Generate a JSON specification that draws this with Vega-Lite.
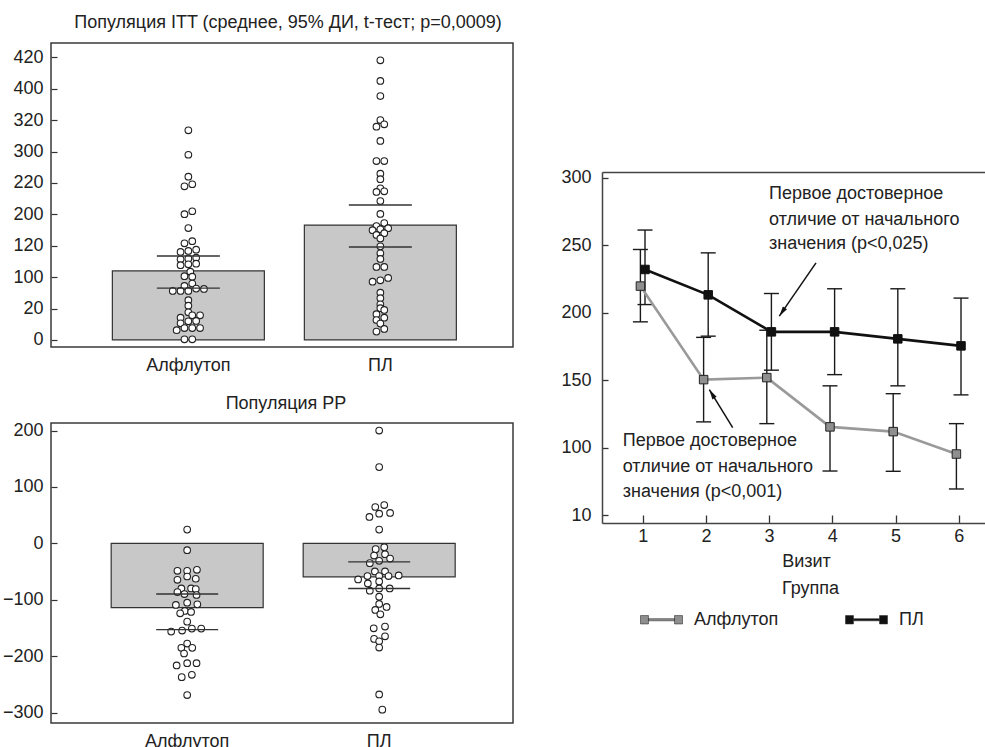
{
  "$schema": "https://vega.github.io/schema/vega-lite/v6.json",
  "padding": {"left": 1, "top": 13, "right": 0, "bottom": 0},
  "background": "white",
  "spacing": 46,
  "config": {
    "font": "Liberation Sans",
    "axis": {"labelFontSize": 18, "titleFontSize": 18, "titleFontWeight": "normal", "labelColor": "#222", "titleColor": "#222", "grid": false, "labelOverlap": false},
    "title": {"fontSize": 18, "fontWeight": "normal", "color": "#222"},
    "text": {"fontSize": 18, "color": "#222"},
    "legend": {"labelFontSize": 18, "titleFontSize": 18, "titleFontWeight": "normal", "labelColor": "#222", "titleColor": "#222"}
  },
  "datasets": {
    "itt_summary": [
      {"group": "Алфлутоп", "mean": 44, "lo": 33, "hi": 53.5},
      {"group": "ПЛ", "mean": 73.2, "lo": 59.2, "hi": 86}
    ],
    "pp_summary": [
      {"group": "Алфлутоп", "mean": -114, "lo": -152.8, "hi": -89.8},
      {"group": "ПЛ", "mean": -59.2, "lo": -79.9, "hi": -32.7}
    ],
    "itt_dots": [
      {"group": "Алфлутоп", "value": 133.6, "slot": 0}, {"group": "Алфлутоп", "value": 118.0, "slot": 0},
      {"group": "Алфлутоп", "value": 104.0, "slot": 0}, {"group": "Алфлутоп", "value": 97.9, "slot": -1},
      {"group": "Алфлутоп", "value": 99.2, "slot": 1}, {"group": "Алфлутоп", "value": 80.1, "slot": -1},
      {"group": "Алфлутоп", "value": 82.0, "slot": 1}, {"group": "Алфлутоп", "value": 71.3, "slot": 0},
      {"group": "Алфлутоп", "value": 61.6, "slot": -1}, {"group": "Алфлутоп", "value": 62.9, "slot": 1},
      {"group": "Алфлутоп", "value": 56.1, "slot": -2}, {"group": "Алфлутоп", "value": 56.7, "slot": 0},
      {"group": "Алфлутоп", "value": 57.5, "slot": 2}, {"group": "Алфлутоп", "value": 51.4, "slot": -2},
      {"group": "Алфлутоп", "value": 51.8, "slot": 0}, {"group": "Алфлутоп", "value": 52.4, "slot": 2},
      {"group": "Алфлутоп", "value": 47.6, "slot": -2}, {"group": "Алфлутоп", "value": 48.2, "slot": 0},
      {"group": "Алфлутоп", "value": 48.6, "slot": 2}, {"group": "Алфлутоп", "value": 43.5, "slot": 0.5},
      {"group": "Алфлутоп", "value": 40.6, "slot": -1}, {"group": "Алфлутоп", "value": 40.3, "slot": 1},
      {"group": "Алфлутоп", "value": 35.9, "slot": 1}, {"group": "Алфлутоп", "value": 34.4, "slot": -1},
      {"group": "Алфлутоп", "value": 31.2, "slot": -4}, {"group": "Алфлутоп", "value": 31.2, "slot": -2},
      {"group": "Алфлутоп", "value": 31.2, "slot": 0}, {"group": "Алфлутоп", "value": 32.7, "slot": 2},
      {"group": "Алфлутоп", "value": 32.5, "slot": 4}, {"group": "Алфлутоп", "value": 25.3, "slot": 0},
      {"group": "Алфлутоп", "value": 21.8, "slot": 0}, {"group": "Алфлутоп", "value": 17.6, "slot": 0},
      {"group": "Алфлутоп", "value": 14.2, "slot": -2}, {"group": "Алфлутоп", "value": 15.7, "slot": 1},
      {"group": "Алфлутоп", "value": 15.7, "slot": 3}, {"group": "Алфлутоп", "value": 10.6, "slot": -2},
      {"group": "Алфлутоп", "value": 11.9, "slot": 0}, {"group": "Алфлутоп", "value": 12.1, "slot": 2},
      {"group": "Алфлутоп", "value": 6.2, "slot": -3}, {"group": "Алфлутоп", "value": 7.6, "slot": -1},
      {"group": "Алфлутоп", "value": 7.6, "slot": 1}, {"group": "Алфлутоп", "value": 7.6, "slot": 3},
      {"group": "Алфлутоп", "value": 0.4, "slot": -1}, {"group": "Алфлутоп", "value": 0.4, "slot": 1},
      {"group": "ПЛ", "value": 178.2, "slot": 0}, {"group": "ПЛ", "value": 165.0, "slot": 0},
      {"group": "ПЛ", "value": 155.4, "slot": 0}, {"group": "ПЛ", "value": 140.1, "slot": 0},
      {"group": "ПЛ", "value": 135.9, "slot": -1}, {"group": "ПЛ", "value": 137.4, "slot": 1},
      {"group": "ПЛ", "value": 126.8, "slot": 0}, {"group": "ПЛ", "value": 114.0, "slot": -1},
      {"group": "ПЛ", "value": 114.0, "slot": 1}, {"group": "ПЛ", "value": 105.9, "slot": 0},
      {"group": "ПЛ", "value": 102.4, "slot": 0}, {"group": "ПЛ", "value": 96.6, "slot": 0},
      {"group": "ПЛ", "value": 94.3, "slot": -1}, {"group": "ПЛ", "value": 94.7, "slot": 1},
      {"group": "ПЛ", "value": 88.5, "slot": 0}, {"group": "ПЛ", "value": 80.3, "slot": 0},
      {"group": "ПЛ", "value": 74.5, "slot": 1}, {"group": "ПЛ", "value": 72.6, "slot": -1},
      {"group": "ПЛ", "value": 71.2, "slot": 2}, {"group": "ПЛ", "value": 69.9, "slot": -2},
      {"group": "ПЛ", "value": 70.5, "slot": 0}, {"group": "ПЛ", "value": 66.9, "slot": -1},
      {"group": "ПЛ", "value": 68.0, "slot": 1}, {"group": "ПЛ", "value": 64.7, "slot": 0},
      {"group": "ПЛ", "value": 59.7, "slot": 0}, {"group": "ПЛ", "value": 55.2, "slot": 0},
      {"group": "ПЛ", "value": 51.6, "slot": 0}, {"group": "ПЛ", "value": 46.5, "slot": -1},
      {"group": "ПЛ", "value": 46.5, "slot": 1}, {"group": "ПЛ", "value": 37.1, "slot": -2},
      {"group": "ПЛ", "value": 38.0, "slot": 0}, {"group": "ПЛ", "value": 39.5, "slot": 2},
      {"group": "ПЛ", "value": 30.1, "slot": 0}, {"group": "ПЛ", "value": 26.6, "slot": 0},
      {"group": "ПЛ", "value": 22.7, "slot": 0}, {"group": "ПЛ", "value": 20.2, "slot": 0},
      {"group": "ПЛ", "value": 19.1, "slot": 1}, {"group": "ПЛ", "value": 16.4, "slot": -1},
      {"group": "ПЛ", "value": 14.2, "slot": 1}, {"group": "ПЛ", "value": 12.7, "slot": -1},
      {"group": "ПЛ", "value": 10.4, "slot": 0}, {"group": "ПЛ", "value": 5.3, "slot": -1},
      {"group": "ПЛ", "value": 7.0, "slot": 1}
    ],
    "pp_dots": [
      {"group": "Алфлутоп", "value": 24.4, "slot": 0}, {"group": "Алфлутоп", "value": -12.0, "slot": 0},
      {"group": "Алфлутоп", "value": -48.6, "slot": -2.5}, {"group": "Алфлутоп", "value": -48.6, "slot": 0},
      {"group": "Алфлутоп", "value": -46.8, "slot": 2.5}, {"group": "Алфлутоп", "value": -64.5, "slot": -2.5},
      {"group": "Алфлутоп", "value": -58.7, "slot": 0}, {"group": "Алфлутоп", "value": -62.7, "slot": 2.2},
      {"group": "Алфлутоп", "value": -79.9, "slot": -1.5}, {"group": "Алфлутоп", "value": -79.9, "slot": 1},
      {"group": "Алфлутоп", "value": -80.9, "slot": 2.2}, {"group": "Алфлутоп", "value": -86.2, "slot": -2.5},
      {"group": "Алфлутоп", "value": -89.8, "slot": -0.7}, {"group": "Алфлутоп", "value": -91.5, "slot": 2.4},
      {"group": "Алфлутоп", "value": -105.1, "slot": 0}, {"group": "Алфлутоп", "value": -109.2, "slot": -2.9},
      {"group": "Алфлутоп", "value": -108.1, "slot": 2.6}, {"group": "Алфлутоп", "value": -119.8, "slot": -0.6},
      {"group": "Алфлутоп", "value": -124.0, "slot": -1.8}, {"group": "Алфлутоп", "value": -121.6, "slot": 1},
      {"group": "Алфлутоп", "value": -138.7, "slot": 0}, {"group": "Алфлутоп", "value": -156.4, "slot": -4.1},
      {"group": "Алфлутоп", "value": -154.6, "slot": -1.3}, {"group": "Алфлутоп", "value": -151.1, "slot": 1.2},
      {"group": "Алфлутоп", "value": -151.1, "slot": 3.6}, {"group": "Алфлутоп", "value": -177.6, "slot": 0},
      {"group": "Алфлутоп", "value": -185.2, "slot": -1.5}, {"group": "Алфлутоп", "value": -185.2, "slot": 1.3},
      {"group": "Алфлутоп", "value": -195.2, "slot": -0.8}, {"group": "Алфлутоп", "value": -216.4, "slot": -2.7},
      {"group": "Алфлутоп", "value": -212.4, "slot": 0}, {"group": "Алфлутоп", "value": -212.4, "slot": 2.4},
      {"group": "Алфлутоп", "value": -237.1, "slot": -1.4}, {"group": "Алфлутоп", "value": -232.9, "slot": 1.2},
      {"group": "Алфлутоп", "value": -268.9, "slot": 0},
      {"group": "ПЛ", "value": 200, "slot": 0}, {"group": "ПЛ", "value": 135.2, "slot": 0},
      {"group": "ПЛ", "value": 64.5, "slot": -1}, {"group": "ПЛ", "value": 68.0, "slot": 1.3},
      {"group": "ПЛ", "value": 46.8, "slot": -2.5}, {"group": "ПЛ", "value": 52.7, "slot": 0},
      {"group": "ПЛ", "value": 53.9, "slot": 2.8}, {"group": "ПЛ", "value": 24.4, "slot": 0},
      {"group": "ПЛ", "value": -6.7, "slot": 1.3}, {"group": "ПЛ", "value": -10.2, "slot": -0.9},
      {"group": "ПЛ", "value": -19.1, "slot": 1.5}, {"group": "ПЛ", "value": -21.6, "slot": -1.3},
      {"group": "ПЛ", "value": -26.9, "slot": 2.8}, {"group": "ПЛ", "value": -30.9, "slot": 0},
      {"group": "ПЛ", "value": -35.0, "slot": -2.4}, {"group": "ПЛ", "value": -49.8, "slot": -1.1},
      {"group": "ПЛ", "value": -49.8, "slot": 1.5}, {"group": "ПЛ", "value": -64.0, "slot": -5.4},
      {"group": "ПЛ", "value": -58.0, "slot": -3}, {"group": "ПЛ", "value": -58.0, "slot": 0},
      {"group": "ПЛ", "value": -58.0, "slot": 2.4}, {"group": "ПЛ", "value": -56.9, "slot": 5},
      {"group": "ПЛ", "value": -71.0, "slot": -2.9}, {"group": "ПЛ", "value": -67.5, "slot": 0},
      {"group": "ПЛ", "value": -83.9, "slot": -2.4}, {"group": "ПЛ", "value": -79.9, "slot": 0},
      {"group": "ПЛ", "value": -79.9, "slot": 2.7}, {"group": "ПЛ", "value": -94.5, "slot": 0},
      {"group": "ПЛ", "value": -107.4, "slot": 0}, {"group": "ПЛ", "value": -112.7, "slot": 1.9},
      {"group": "ПЛ", "value": -118.0, "slot": -1}, {"group": "ПЛ", "value": -125.8, "slot": 0.3},
      {"group": "ПЛ", "value": -150.5, "slot": -1.4}, {"group": "ПЛ", "value": -147.5, "slot": 1.5},
      {"group": "ПЛ", "value": -169.3, "slot": -1.3}, {"group": "ПЛ", "value": -164.7, "slot": 1.5},
      {"group": "ПЛ", "value": -173.5, "slot": 0}, {"group": "ПЛ", "value": -184.6, "slot": 0},
      {"group": "ПЛ", "value": -267.7, "slot": 0}, {"group": "ПЛ", "value": -294.7, "slot": 0.8}
    ],
    "visits": [
      {"group": "Алфлутоп", "visit": 1, "mean": 219.8, "lo": 193.3, "hi": 246.9},
      {"group": "Алфлутоп", "visit": 2, "mean": 150.5, "lo": 119.2, "hi": 181.8},
      {"group": "Алфлутоп", "visit": 3, "mean": 152.0, "lo": 117.9, "hi": 187.1},
      {"group": "Алфлутоп", "visit": 4, "mean": 115.5, "lo": 82.8, "hi": 145.9},
      {"group": "Алфлутоп", "visit": 5, "mean": 112.0, "lo": 82.6, "hi": 140.1},
      {"group": "Алфлутоп", "visit": 6, "mean": 95.4, "lo": 69.5, "hi": 117.9},
      {"group": "ПЛ", "visit": 1, "mean": 232.1, "lo": 206.1, "hi": 261.3},
      {"group": "ПЛ", "visit": 2, "mean": 213.3, "lo": 182.7, "hi": 244.4},
      {"group": "ПЛ", "visit": 3, "mean": 185.9, "lo": 157.5, "hi": 214.3},
      {"group": "ПЛ", "visit": 4, "mean": 185.9, "lo": 154.2, "hi": 217.8},
      {"group": "ПЛ", "visit": 5, "mean": 180.7, "lo": 145.9, "hi": 217.8},
      {"group": "ПЛ", "visit": 6, "mean": 175.5, "lo": 139.2, "hi": 210.9}
    ],
    "notes": [
      {"x": 3.0, "y": 287.7, "text": "Первое достоверное"},
      {"x": 3.0, "y": 269.1, "text": "отличие от начального"},
      {"x": 3.0, "y": 250.6, "text": "значения (p<0,025)"},
      {"x": 0.684, "y": 104.9, "text": "Первое достоверное"},
      {"x": 0.684, "y": 85.8, "text": "отличие от начального"},
      {"x": 0.684, "y": 67.0, "text": "значения (p<0,001)"}
    ],
    "arrows": [
      {"id": "a1", "x": 3.742, "y": 237.0, "x2": 3.161, "y2": 197.5},
      {"id": "a2", "x": 2.424, "y": 114.9, "x2": 2.054, "y2": 143.1}
    ]
  },
  "hconcat": [
    {
      "bounds": "flush",
      "spacing": 76,
      "vconcat": [
        {
          "width": 462,
          "height": 304,
          "title": {"text": "Популяция ITT (среднее, 95% ДИ, t-тест; p=0,0009)", "anchor": "middle", "offset": -3, "baseline": "alphabetic", "dx": 6},
          "view": {"stroke": "#3a3a3a", "strokeWidth": 1.5},
          "layer": [
            {
              "data": {"name": "itt_summary"},
              "mark": {"type": "bar", "fill": "#c8c8c8", "stroke": "#333", "strokeWidth": 1.2, "width": 152},
              "encoding": {
                "x": {"field": "group", "type": "nominal", "sort": null,
                  "scale": {"paddingInner": 0.2083, "paddingOuter": 0.3073, "align": 0.52},
                  "axis": {"title": null, "ticks": false, "domain": false, "labelAngle": 0, "labelPadding": 9}},
                "y": {"field": "mean", "type": "quantitative",
                  "scale": {"domain": [-4.5, 189.2], "nice": false, "zero": false},
                  "axis": {"title": null, "values": [0, 20, 40, 60, 80, 100, 120, 140, 160, 180], "tickCount": 10,
                    "labelExpr": "['0','20','100','120','200','220','300','320','400','420'][round(datum.value/20)]",
                    "tickSize": -6, "tickColor": "#333", "tickWidth": 1.2, "labelPadding": 14, "domain": false}}
              }
            },
            {
              "data": {"name": "itt_dots"},
              "mark": {"type": "point", "shape": "circle", "filled": true, "fill": "white", "stroke": "#222", "strokeWidth": 1.1, "size": 44, "opacity": 1},
              "encoding": {
                "x": {"field": "group", "type": "nominal", "sort": null},
                "xOffset": {"field": "slot", "type": "quantitative", "scale": {"domain": [-6, 6], "range": [52.6, 99.4]}},
                "y": {"field": "value", "type": "quantitative",
                  "axis": {"title": null, "values": [0, 20, 40, 60, 80, 100, 120, 140, 160, 180], "tickCount": 10,
                    "labelExpr": "['0','20','100','120','200','220','300','320','400','420'][round(datum.value/20)]",
                    "tickSize": -6, "tickColor": "#333", "tickWidth": 1.2, "labelPadding": 14, "domain": false}}
              }
            },
            {
              "data": {"name": "itt_summary"},
              "mark": {"type": "tick", "orient": "horizontal", "size": 63, "thickness": 1.4, "color": "#333", "opacity": 1},
              "encoding": {
                "x": {"field": "group", "type": "nominal", "sort": null},
                "y": {"field": "lo", "type": "quantitative",
                  "axis": {"title": null, "values": [0, 20, 40, 60, 80, 100, 120, 140, 160, 180], "tickCount": 10,
                    "labelExpr": "['0','20','100','120','200','220','300','320','400','420'][round(datum.value/20)]",
                    "tickSize": -6, "tickColor": "#333", "tickWidth": 1.2, "labelPadding": 14, "domain": false}}
              }
            },
            {
              "data": {"name": "itt_summary"},
              "mark": {"type": "tick", "orient": "horizontal", "size": 63, "thickness": 1.4, "color": "#333", "opacity": 1},
              "encoding": {
                "x": {"field": "group", "type": "nominal", "sort": null},
                "y": {"field": "hi", "type": "quantitative",
                  "axis": {"title": null, "values": [0, 20, 40, 60, 80, 100, 120, 140, 160, 180], "tickCount": 10,
                    "labelExpr": "['0','20','100','120','200','220','300','320','400','420'][round(datum.value/20)]",
                    "tickSize": -6, "tickColor": "#333", "tickWidth": 1.2, "labelPadding": 14, "domain": false}}
              }
            }
          ]
        },
        {
          "width": 462,
          "height": 300,
          "title": {"text": "Популяция PP", "anchor": "middle", "offset": -5.3, "baseline": "alphabetic", "dx": 4},
          "view": {"stroke": "#3a3a3a", "strokeWidth": 1.5},
          "layer": [
            {
              "data": {"name": "pp_summary"},
              "mark": {"type": "bar", "fill": "#c8c8c8", "stroke": "#333", "strokeWidth": 1.2, "width": 152},
              "encoding": {
                "x": {"field": "group", "type": "nominal", "sort": null,
                  "scale": {"paddingInner": 0.2083, "paddingOuter": 0.3073, "align": 0.51},
                  "axis": {"title": null, "ticks": false, "domain": false, "labelAngle": 0, "labelPadding": 9.5}},
                "y": {"field": "mean", "type": "quantitative",
                  "scale": {"domain": [-318.4, 213.4], "nice": false, "zero": false},
                  "axis": {"title": null, "values": [-300, -200, -100, 0, 100, 200],
                    "tickSize": -6, "tickColor": "#333", "tickWidth": 1.2, "labelPadding": 14, "domain": false}}
              }
            },
            {
              "data": {"name": "pp_dots"},
              "mark": {"type": "point", "shape": "circle", "filled": true, "fill": "white", "stroke": "#222", "strokeWidth": 1.1, "size": 44, "opacity": 1},
              "encoding": {
                "x": {"field": "group", "type": "nominal", "sort": null},
                "xOffset": {"field": "slot", "type": "quantitative", "scale": {"domain": [-6, 6], "range": [52.6, 99.4]}},
                "y": {"field": "value", "type": "quantitative",
                  "axis": {"title": null, "values": [-300, -200, -100, 0, 100, 200],
                    "tickSize": -6, "tickColor": "#333", "tickWidth": 1.2, "labelPadding": 14, "domain": false}}
              }
            },
            {
              "data": {"name": "pp_summary"},
              "mark": {"type": "tick", "orient": "horizontal", "size": 62, "thickness": 1.4, "color": "#333", "opacity": 1},
              "encoding": {
                "x": {"field": "group", "type": "nominal", "sort": null},
                "y": {"field": "lo", "type": "quantitative",
                  "axis": {"title": null, "values": [-300, -200, -100, 0, 100, 200],
                    "tickSize": -6, "tickColor": "#333", "tickWidth": 1.2, "labelPadding": 14, "domain": false}}
              }
            },
            {
              "data": {"name": "pp_summary"},
              "mark": {"type": "tick", "orient": "horizontal", "size": 62, "thickness": 1.4, "color": "#333", "opacity": 1},
              "encoding": {
                "x": {"field": "group", "type": "nominal", "sort": null},
                "y": {"field": "hi", "type": "quantitative",
                  "axis": {"title": null, "values": [-300, -200, -100, 0, 100, 200],
                    "tickSize": -6, "tickColor": "#333", "tickWidth": 1.2, "labelPadding": 14, "domain": false}}
              }
            }
          ]
        }
      ]
    },
    {
      "bounds": "flush",
      "spacing": 128,
      "vconcat": [
        {
          "width": 383,
          "height": 1,
          "view": {"stroke": null},
          "data": {"values": []},
          "mark": {"type": "point"},
          "encoding": {}
        },
        {
          "width": 383,
          "height": 351,
          "view": {"stroke": null},
          "data": {"name": "visits"},
          "resolve": {"axis": {"x": "independent"}},
          "layer": [
            {
              "transform": [{"filter": "datum.group === 'ПЛ'"}],
              "mark": {"type": "rule", "color": "#1a1a1a", "strokeWidth": 1.4, "xOffset": 2.3},
              "encoding": {
                "x": {"field": "visit", "type": "quantitative",
                  "scale": {"domain": [0.356, 6.416], "nice": false, "zero": false},
                  "axis": {"title": "Визит", "values": [1, 2, 3, 4, 5, 6], "format": "d", "tickSize": -8, "tickColor": "#333", "tickWidth": 1.3,
                    "labelPadding": 12, "domain": true, "domainColor": "#444", "domainWidth": 1.5, "titleX": 204, "titlePadding": 7}},
                "y": {"field": "lo", "type": "quantitative",
                  "scale": {"domain": [44.3, 304.3], "nice": false, "zero": false},
                  "axis": {"title": null, "values": [50, 100, 150, 200, 250, 300],
                    "labelExpr": "datum.value == 50 ? '10' : datum.label",
                    "tickSize": -6, "tickColor": "#333", "tickWidth": 1.3, "labelPadding": 17,
                    "domain": true, "domainColor": "#444", "domainWidth": 1.5}},
                "y2": {"field": "hi"}
              }
            },
            {
              "transform": [{"filter": "datum.group === 'ПЛ'"}],
              "mark": {"type": "tick", "orient": "horizontal", "size": 15, "thickness": 1.4, "color": "#1a1a1a", "xOffset": 2.3, "opacity": 1},
              "encoding": {
                "x": {"field": "visit", "type": "quantitative",
                  "axis": {"orient": "top", "labels": false, "ticks": false, "title": null, "domain": true, "domainColor": "#444", "domainWidth": 1.5}},
                "y": {"field": "hi", "type": "quantitative"}
              }
            },
            {
              "transform": [{"filter": "datum.group === 'ПЛ'"}],
              "mark": {"type": "tick", "orient": "horizontal", "size": 15, "thickness": 1.4, "color": "#1a1a1a", "xOffset": 2.3, "opacity": 1},
              "encoding": {
                "x": {"field": "visit", "type": "quantitative", "axis": null},
                "y": {"field": "lo", "type": "quantitative"}
              }
            },
            {
              "transform": [{"filter": "datum.group === 'Алфлутоп'"}],
              "mark": {"type": "rule", "color": "#1a1a1a", "strokeWidth": 1.4, "xOffset": -2.3},
              "encoding": {
                "x": {"field": "visit", "type": "quantitative", "axis": null},
                "y": {"field": "lo", "type": "quantitative"},
                "y2": {"field": "hi"}
              }
            },
            {
              "transform": [{"filter": "datum.group === 'Алфлутоп'"}],
              "mark": {"type": "tick", "orient": "horizontal", "size": 15, "thickness": 1.4, "color": "#1a1a1a", "xOffset": -2.3, "opacity": 1},
              "encoding": {
                "x": {"field": "visit", "type": "quantitative", "axis": null},
                "y": {"field": "hi", "type": "quantitative"}
              }
            },
            {
              "transform": [{"filter": "datum.group === 'Алфлутоп'"}],
              "mark": {"type": "tick", "orient": "horizontal", "size": 15, "thickness": 1.4, "color": "#1a1a1a", "xOffset": -2.3, "opacity": 1},
              "encoding": {
                "x": {"field": "visit", "type": "quantitative", "axis": null},
                "y": {"field": "lo", "type": "quantitative"}
              }
            },
            {
              "transform": [{"filter": "datum.group === 'Алфлутоп'"}],
              "mark": {"type": "line", "color": "#9a9a9a", "strokeWidth": 2.6, "xOffset": -2.3},
              "encoding": {
                "x": {"field": "visit", "type": "quantitative", "axis": null},
                "y": {"field": "mean", "type": "quantitative"}
              }
            },
            {
              "transform": [{"filter": "datum.group === 'ПЛ'"}],
              "mark": {"type": "line", "color": "#111111", "strokeWidth": 2.6, "xOffset": 2.3},
              "encoding": {
                "x": {"field": "visit", "type": "quantitative", "axis": null},
                "y": {"field": "mean", "type": "quantitative"}
              }
            },
            {
              "transform": [{"filter": "datum.group === 'Алфлутоп'"}],
              "mark": {"type": "square", "filled": true, "size": 72, "stroke": "#222", "strokeWidth": 1, "xOffset": -2.3, "opacity": 1},
              "encoding": {
                "x": {"field": "visit", "type": "quantitative", "axis": null},
                "y": {"field": "mean", "type": "quantitative"},
                "fill": {"field": "group", "type": "nominal",
                  "scale": {"domain": ["Алфлутоп", "ПЛ"], "range": ["#8f8f8f", "#111111"]},
                  "legend": {"title": "Группа", "orient": "none", "legendX": 589, "legendY": 537, "direction": "horizontal", "columns": 2,
                    "gridAlign": "all", "columnPadding": 65,
                    "symbolType": "M-1,-0.2H-0.62V0.2H-1Z M0.62,-0.2H1V0.2H0.62Z M-0.62,-0.05H0.62V0.05H-0.62Z",
                    "symbolSize": 1764, "symbolStrokeColor": "#333", "symbolStrokeWidth": 0.6, "labelOffset": 11,
                    "titleAnchor": "middle", "titleAlign": "left", "titlePadding": 0}}
              }
            },
            {
              "transform": [{"filter": "datum.group === 'ПЛ'"}],
              "mark": {"type": "square", "filled": true, "size": 72, "stroke": "#111", "strokeWidth": 1, "xOffset": 2.3, "opacity": 1},
              "encoding": {
                "x": {"field": "visit", "type": "quantitative", "axis": null},
                "y": {"field": "mean", "type": "quantitative"},
                "fill": {"field": "group", "type": "nominal"}
              }
            },
            {
              "data": {"name": "notes"},
              "mark": {"type": "text", "align": "left", "baseline": "middle", "fontSize": 18, "color": "#222"},
              "encoding": {
                "x": {"field": "x", "type": "quantitative", "axis": null},
                "y": {"field": "y", "type": "quantitative"},
                "text": {"field": "text"}
              }
            },
            {
              "data": {"name": "arrows"},
              "mark": {"type": "rule", "color": "#111", "strokeWidth": 1.5},
              "encoding": {
                "x": {"field": "x", "type": "quantitative", "axis": null},
                "y": {"field": "y", "type": "quantitative"},
                "x2": {"field": "x2"},
                "y2": {"field": "y2"}
              }
            },
            {
              "data": {"name": "arrows"},
              "transform": [{"filter": "datum.id === 'a1'"}],
              "mark": {"type": "point", "shape": "M0,0L0.5,2L-0.5,2Z", "filled": true, "color": "#111", "size": 100, "angle": 214.5, "opacity": 1},
              "encoding": {
                "x": {"field": "x2", "type": "quantitative", "axis": null},
                "y": {"field": "y2", "type": "quantitative"}
              }
            },
            {
              "data": {"name": "arrows"},
              "transform": [{"filter": "datum.id === 'a2'"}],
              "mark": {"type": "point", "shape": "M0,0L0.5,2L-0.5,2Z", "filled": true, "color": "#111", "size": 100, "angle": 328.6, "opacity": 1},
              "encoding": {
                "x": {"field": "x2", "type": "quantitative", "axis": null},
                "y": {"field": "y2", "type": "quantitative"}
              }
            }
          ]
        }
      ]
    }
  ]
}
